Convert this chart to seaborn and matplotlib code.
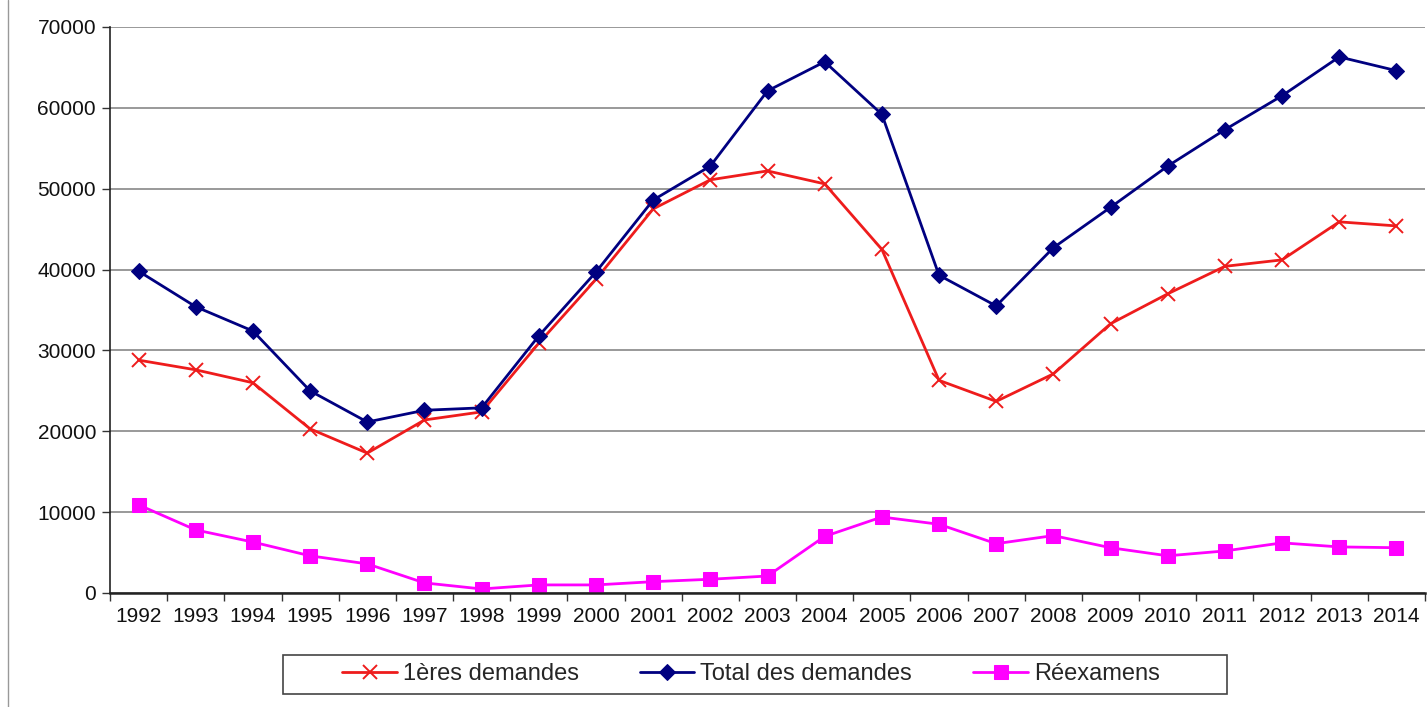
import numpy as np
import pandas as pd
import matplotlib
matplotlib.use("Agg")
import matplotlib.pyplot as plt
from matplotlib.lines import Line2D
from matplotlib.patches import Rectangle
import seaborn as sns

years = list(range(1992, 2015))
premieres = [28800, 27600, 26000, 20300, 17300, 21400, 22400, 30900, 38800, 47500,
             51100, 52200, 50600, 42500, 26300, 23700, 27100, 33300, 37000, 40400,
             41200, 45900, 45400]
total = [39800, 35400, 32400, 25000, 21150, 22600, 22900, 31800, 39700, 48600,
         52800, 62100, 65700, 59200, 39300, 35500, 42700, 47700, 52800, 57300,
         61500, 66300, 64600]
reexamens = [10900, 7800, 6300, 4600, 3600, 1250, 500, 1000, 1000, 1400,
             1700, 2100, 7000, 9400, 8500, 6100, 7100, 5600, 4600, 5200,
             6200, 5700, 5600]
series_names = ["1ères demandes", "Total des demandes", "Réexamens"]
yticks = list(range(0, 70001, 10000))

sns.set_theme(style="white")
plt.rcParams['font.family'] = ['Liberation Sans', 'DejaVu Sans']

W, H = 1427, 707
fig = plt.figure(figsize=(W/100, H/100), dpi=100)
ax = fig.add_axes([110/W, 1-593/H, 1-110/W-2/W, (593-27)/H])

df = pd.DataFrame({"year": years, "p": premieres, "t": total, "r": reexamens})

sns.lineplot(data=df, x="year", y="p", ax=ax, color="#EE1C1C", lw=2.0,
             marker="x", markersize=10, markeredgewidth=1.4, markeredgecolor="#EE1C1C",
             label=series_names[0], legend=False)
sns.lineplot(data=df, x="year", y="t", ax=ax, color="#000080", lw=2.0,
             marker="D", markersize=8, markeredgecolor="#000080",
             label=series_names[1], legend=False)
sns.lineplot(data=df, x="year", y="r", ax=ax, color="#FF00FF", lw=2.0,
             marker="s", markersize=10, markeredgecolor="#FF00FF",
             label=series_names[2], legend=False)

ax.set_xlim(years[0]-0.5, years[-1]+0.5)
ax.set_ylim(0, 70000)
ax.set_yticks(yticks)
ax.set_yticklabels([str(v) for v in yticks], fontsize=15, color="#111111")
ax.set_xticks(years)
ax.set_xticklabels([str(y) for y in years], fontsize=15, color="#111111")
ax.set_xticks(np.arange(years[0]-0.5, years[-1]+1.0, 1.0), minor=True)
ax.tick_params(axis="x", which="major", length=0, pad=10)
ax.tick_params(axis="x", which="minor", length=6, width=1, color="#333333", direction="out", bottom=True)
ax.tick_params(axis="y", which="major", length=6, width=1, color="#333333", direction="out", left=True, pad=4)
ax.set_xlabel("")
ax.set_ylabel("")
ax.yaxis.grid(True, color="#888888", lw=1.2)
ax.xaxis.grid(False)
ax.set_axisbelow(True)
for s in ["top", "right"]:
    ax.spines[s].set_visible(False)
ax.spines["left"].set_color("#222222")
ax.spines["bottom"].set_color("#222222")
ax.spines["left"].set_linewidth(1.2)
ax.spines["bottom"].set_linewidth(1.8)

handles, labels = ax.get_legend_handles_labels()
leg = fig.legend(handles, labels, loc="center", bbox_to_anchor=(751/W, 1-674.5/H),
                 ncol=3, fontsize=17, frameon=False,
                 columnspacing=2.6, handlelength=2.3, handletextpad=0.25,
                 borderpad=0.2, borderaxespad=0)

fig.add_artist(Rectangle((283/W, 1-694/H), (1227-283)/W, (694-655)/H,
                         transform=fig.transFigure, fill=False, edgecolor="#444444", lw=1.2))
fig.add_artist(Line2D([8/W, 8/W], [0, 1], transform=fig.transFigure, color="#999999", lw=1.0))

fig.savefig("out.png", dpi=100)
